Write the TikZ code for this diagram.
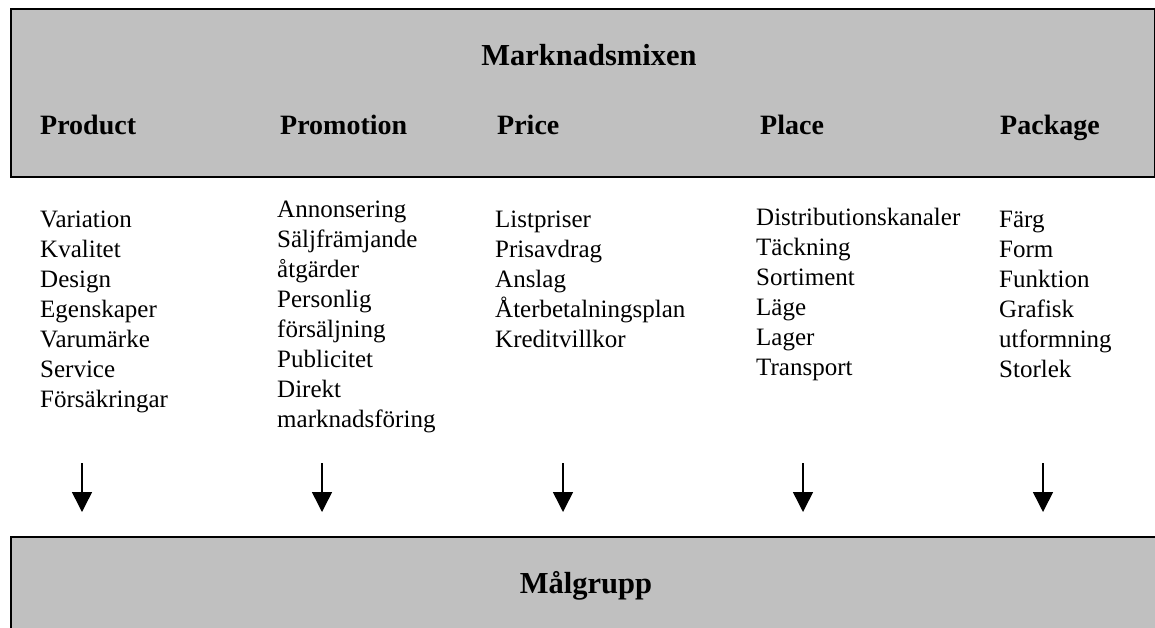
\documentclass[tikz,border=0pt]{standalone}
\usepackage{fontspec}
\setmainfont{Liberation Serif}
\usetikzlibrary{arrows.meta}
\definecolor{panelgray}{HTML}{C0C0C0}
\begin{document}
\begin{tikzpicture}[x=1pt,y=-1pt,
  panel/.style={draw=black, line width=1.6pt, fill=panelgray, inner sep=0pt, anchor=north west},
  head/.style={font=\fontsize{28}{32}\selectfont\bfseries, anchor=base west, inner sep=0pt},
  title/.style={font=\fontsize{30.5}{34}\selectfont\bfseries, anchor=base, inner sep=0pt},
  items/.style={font=\fontsize{25}{30}\selectfont, anchor=base west, inner sep=0pt},
  down/.style={-{Triangle[width=20pt,length=20pt]}, line width=1.5pt}]
\useasboundingbox (0,0) rectangle (1155,627);
\clip (0,0) rectangle (1155,627);
\fill[white] (0,0) rectangle (1155,627);
% panels
\node[panel, minimum width=1144pt, minimum height=168pt] (mix) at (10,8) {};
\node[panel, minimum width=1170pt, minimum height=130pt] (target) at (10,536) {};
% titles
\node[title] (mixtitle) at (589,65) {Marknadsmixen};
\node[title] (targettitle) at (586,593) {Målgrupp};
% headings
\node[head] (hprod) at (40,134) {Product};
\node[head] (hprom) at (280,134) {Promotion};
\node[head] (hprice) at (497,134) {Price};
\node[head] (hplace) at (760,134) {Place};
\node[head] (hpack) at (1000,134) {Package};
% lists
\node[items] (lprod) at (40,227) {\begin{tabular}[t]{@{}l@{}}Variation\\Kvalitet\\Design\\Egenskaper\\Varumärke\\Service\\Försäkringar\end{tabular}};
\node[items] (lprom) at (277,217) {\begin{tabular}[t]{@{}l@{}}Annonsering\\Säljfrämjande\\åtgärder\\Personlig\\försäljning\\Publicitet\\Direkt\\marknadsföring\end{tabular}};
\node[items] (lprice) at (495,227) {\begin{tabular}[t]{@{}l@{}}Listpriser\\Prisavdrag\\Anslag\\Återbetalningsplan\\Kreditvillkor\end{tabular}};
\node[items] (lplace) at (756,225) {\begin{tabular}[t]{@{}l@{}}Distributionskanaler\\Täckning\\Sortiment\\Läge\\Lager\\Transport\end{tabular}};
\node[items] (lpack) at (999,227) {\begin{tabular}[t]{@{}l@{}}Färg\\Form\\Funktion\\Grafisk\\utformning\\Storlek\end{tabular}};
% arrows
\foreach \n/\x in {a/82,b/322,c/563,d/803,e/1043}{
  \coordinate (s\n) at (\x,463);
  \coordinate (t\n) at (\x,512);
  \draw[down] (s\n) -- (t\n);
}
\end{tikzpicture}
\end{document}
